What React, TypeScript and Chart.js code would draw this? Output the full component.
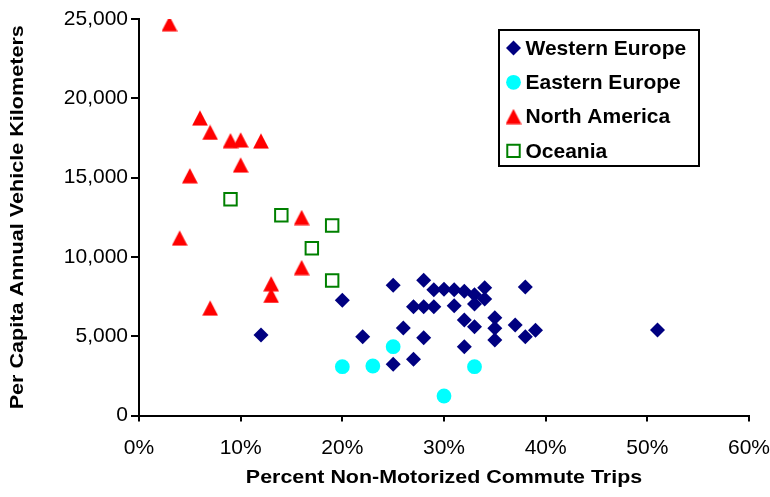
import React, { useEffect, useRef } from 'react';
import { Chart, registerables } from 'chart.js';
import { drawPoint } from 'chart.js/helpers';

Chart.register(...registerables);

// Western Europe
const westernX = [12, 20, 22, 25, 25, 26, 27, 27, 28, 28, 28, 29, 29, 30, 31, 31, 32, 32, 32, 33, 33, 33, 34, 34, 35, 35, 35, 37, 38, 38, 39, 51];
const westernY = [5075, 7260, 4970, 8210, 3230, 5520, 6860, 3540, 8525, 6860, 4905, 7930, 6860, 7960, 7930, 6920, 7830, 6020, 4340, 7620, 7030, 5600, 8060, 7345, 6170, 5500, 4760, 5705, 8100, 4970, 5370, 5390];

// Eastern Europe
const easternX = [20, 23, 25, 30, 33];
const easternY = [3080, 3120, 4340, 1230, 3080];

// North America
const northX = [3, 6, 7, 9, 10, 12, 10, 5, 4, 16, 16, 13, 13, 7];
const northY = [24700, 18750, 17850, 17320, 17370, 17300, 15790, 15110, 11180, 12480, 9320, 8300, 7570, 6770];

// Oceania
const oceaniaX = [9, 14, 19, 17, 19];
const oceaniaY = [13640, 12630, 11980, 10550, 8510];

const seriesNames = ['Western Europe', 'Eastern Europe', 'North America', 'Oceania'];

const xTitle = 'Percent Non-Motorized Commute Trips';
const yTitle = 'Per Capita Annual Vehicle Kilometers';

const FONT = "'Liberation Sans', Arial, sans-serif";

function makeTriangle(): HTMLCanvasElement {
  const c = document.createElement('canvas');
  c.width = 16;
  c.height = 16;
  const g = c.getContext('2d')!;
  g.fillStyle = '#FF0000';
  g.beginPath();
  g.moveTo(8, 0.2);
  g.lineTo(15.9, 15.6);
  g.lineTo(0.1, 15.6);
  g.closePath();
  g.fill();
  return c;
}

const pts = (xs: number[], ys: number[]) => xs.map((x, i) => ({ x, y: ys[i] }));

const decorPlugin = {
  id: 'decor',
  afterDraw(chart: any) {
    const ctx = chart.ctx as CanvasRenderingContext2D;
    const area = chart.chartArea;
    ctx.save();
    // axis titles (wide-set bold sans)
    ctx.fillStyle = '#000';
    ctx.font = `bold 18px ${FONT}`;
    ctx.textBaseline = 'middle';
    ctx.textAlign = 'center';
    ctx.save();
    ctx.translate((area.left + area.right) / 2, 478);
    ctx.scale(1.19, 1);
    ctx.fillText(xTitle, 0, 0);
    ctx.restore();
    ctx.save();
    ctx.translate(18, (area.top + area.bottom) / 2);
    ctx.rotate(-Math.PI / 2);
    ctx.scale(1.2, 1);
    ctx.fillText(yTitle, 0, 0);
    ctx.restore();

    // legend box
    ctx.strokeStyle = '#000';
    ctx.lineWidth = 2;
    ctx.strokeRect(499, 30, 200, 136);
    ctx.font = `bold 21px ${FONT}`;
    ctx.textBaseline = 'middle';
    ctx.textAlign = 'left';
    chart.data.datasets.forEach((ds: any, i: number) => {
      const y = 48 + i * 34.3;
      ctx.fillStyle = ds.backgroundColor;
      ctx.strokeStyle = ds.borderColor;
      ctx.lineWidth = ds.borderWidth;
      drawPoint(ctx, { pointStyle: ds.pointStyle, radius: ds.pointRadius, borderWidth: ds.borderWidth, rotation: 0 } as any, 513.5, y);
      ctx.fillStyle = '#000';
      ctx.fillText(ds.label, 525.5, y + 1);
    });
    ctx.restore();
  },
};

export default function App() {
  const ref = useRef<HTMLCanvasElement>(null);

  useEffect(() => {
    document.body.style.margin = '0';
    const canvas = ref.current!;
    const tri = makeTriangle();
    const chart = new Chart(canvas, {
      type: 'scatter',
      data: {
        datasets: [
          {
            label: seriesNames[0],
            data: pts(westernX, westernY),
            pointStyle: 'rectRot',
            pointRadius: 7.5,
            backgroundColor: '#000080',
            borderColor: '#000080',
            borderWidth: 0,
          },
          {
            label: seriesNames[1],
            data: pts(easternX, easternY),
            pointStyle: 'circle',
            pointRadius: 7.4,
            backgroundColor: '#00FFFF',
            borderColor: '#00FFFF',
            borderWidth: 0,
          },
          {
            label: seriesNames[2],
            data: pts(northX, northY),
            pointStyle: tri as any,
            pointRadius: 8,
            backgroundColor: '#FF0000',
            borderColor: '#FF0000',
            borderWidth: 0,
          },
          {
            label: seriesNames[3],
            data: pts(oceaniaX, oceaniaY),
            pointStyle: 'rect',
            pointRadius: 8.8,
            backgroundColor: 'rgba(0,0,0,0)',
            borderColor: '#008000',
            borderWidth: 2,
          },
        ] as any,
      },
      options: {
        animation: false,
        responsive: false,
        events: [],
        layout: { padding: { top: 19, right: 21, left: 0, bottom: 0 } },
        plugins: {
          legend: { display: false },
          tooltip: { enabled: false },
        },
        scales: {
          x: {
            type: 'linear',
            min: 0,
            max: 60,
            afterFit: (s: any) => { s.height = 81.5; s.paddingLeft = 0; s.paddingRight = 0; },
            ticks: {
              stepSize: 10,
              padding: 14,
              color: '#000',
              font: { family: FONT, size: 21 },
              callback: (v: any) => `${v}%`,
              maxRotation: 0,
            },
            grid: { drawOnChartArea: false, drawTicks: true, tickLength: 6, color: '#000', lineWidth: 2 },
            border: { display: true, color: '#000', width: 2 },
            title: { display: false },
          },
          y: {
            type: 'linear',
            min: 0,
            max: 25000,
            afterFit: (s: any) => { s.width = 139; s.paddingTop = 0; s.paddingBottom = 0; },
            ticks: {
              stepSize: 5000,
              padding: 3,
              color: '#000',
              font: { family: FONT, size: 21 },
              callback: (v: any) => Number(v).toLocaleString('en-US'),
            },
            grid: { drawOnChartArea: false, drawTicks: true, tickLength: 8, color: '#000', lineWidth: 2 },
            border: { display: true, color: '#000', width: 2 },
            title: { display: false },
          },
        },
      },
      plugins: [decorPlugin],
    });
    return () => chart.destroy();
  }, []);

  return <canvas ref={ref} width={770} height={497} style={{ display: 'block' }} />;
}
